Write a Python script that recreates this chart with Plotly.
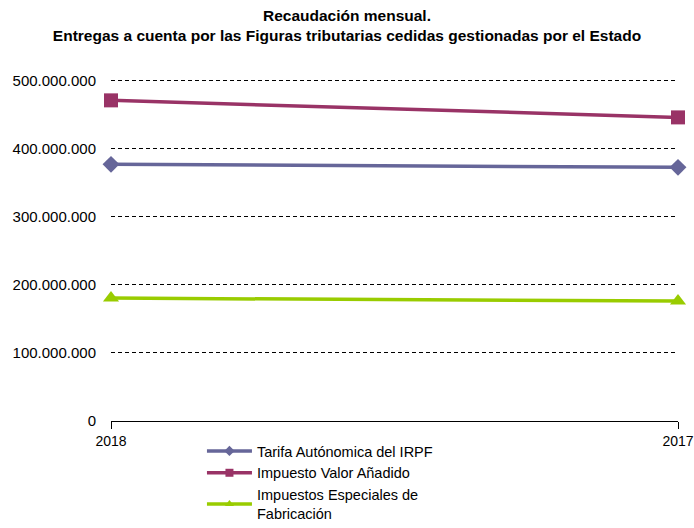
import plotly.graph_objects as go

categories = ["2018", "2017"]
irpf = [376800000, 372400000]
iva = [470700000, 445700000]
ief = [180400000, 176000000]
series_names = ["Tarifa Autónomica del IRPF", "Impuesto Valor Añadido",
                "Impuestos Especiales de<br>Fabricación"]
y_ticks = [0, 100000000, 200000000, 300000000, 400000000, 500000000]

colors = ["#666699", "#993366", "#99CC00"]
symbols = ["diamond", "square", "triangle-up"]
sizes = [13, 14, 14]

fig = go.Figure()
for name, vals, c, s, sz in zip(series_names, [irpf, iva, ief], colors, symbols, sizes):
    fig.add_trace(go.Scatter(
        x=categories, y=vals, name=name, mode="lines+markers",
        line=dict(color=c, width=3.5),
        marker=dict(symbol=s, size=sz, color=c),
        cliponaxis=False, showlegend=False,
    ))
# legend entries (smaller symbols, as in the reference legend)
for name, c, s in zip(series_names, colors, symbols):
    fig.add_trace(go.Scatter(
        x=[None], y=[None], name=name, mode="lines+markers",
        line=dict(color=c, width=3.5),
        marker=dict(symbol=s, size=8, color=c),
        showlegend=True,
    ))

fig.update_layout(
    width=694, height=528,
    paper_bgcolor="white", plot_bgcolor="white",
    margin=dict(l=111, r=16, t=77, b=107, autoexpand=False),
    separators=",.",
    font=dict(family="Liberation Sans, Arial, sans-serif", size=13, color="#000000"),
    title=dict(
        text="<b>Recaudación mensual.<br>Entregas a cuenta por las Figuras tributarias cedidas gestionadas por el Estado</b>",
        x=0.5, xref="container", xanchor="center",
        y=1 - 21 / 528, yref="container", yanchor="middle",
        font=dict(size=15.5, color="#000000"),
    ),
    showlegend=True,
    legend=dict(
        xref="container", yref="container",
        x=0.291, y=1 - 435 / 528, xanchor="left", yanchor="top",
        orientation="v", font=dict(size=14.5), tracegroupgap=0,
        itemwidth=45,
        bgcolor="rgba(0,0,0,0)",
    ),
)

fig.update_xaxes(
    type="category", range=[0, 1], automargin=False,
    showline=True, linecolor="#000000", linewidth=1,
    ticks="outside", ticklen=7, tickcolor="#000000",
    showgrid=False, tickfont=dict(size=14), zeroline=False,
)
fig.update_yaxes(
    range=[0, 505000000], tickvals=y_ticks, tickformat=",d", automargin=False,
    showgrid=True, gridcolor="#000000", gridwidth=1, griddash="4px,3px",
    showline=False, zeroline=False, ticks="", ticklabelstandoff=14,
    tickfont=dict(size=15),
)

fig.write_html(
    "out.html",
    config={"displayModeBar": False},
    post_script="document.body.style.margin='0px';document.body.style.overflow='hidden';",
)
